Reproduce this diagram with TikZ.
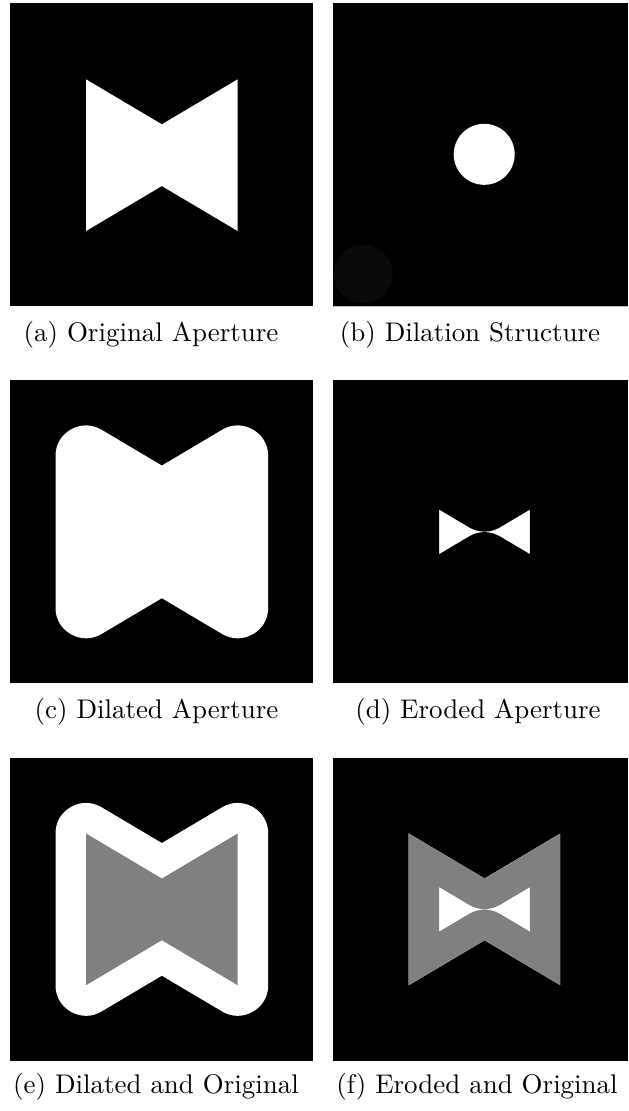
\documentclass[tikz,border=0pt]{standalone}
\begin{document}
\begin{tikzpicture}[x=0.36pt, y=-0.36pt]
    \tikzset{
      panel/.style={fill=black},
      bow/.style={insert path={(76,76) -- (151.85,121) -- (227.7,76) -- (227.7,227.7) -- (151.85,182.7) -- (76,227.7) -- cycle}},
      swell/.style={line width=21.96pt, line join=round},
      caption/.style={anchor=base, inner sep=0pt, font=\fontsize{9.7}{12}\selectfont}
    }
    \useasboundingbox[fill=white] (0,0) rectangle (628,1111);
    \begin{scope}[shift={(10,3.3)}]
      \fill[panel] (0,0) rectangle (303,303);
      \fill[white, bow];
    \end{scope}
    \begin{scope}[shift={(332.7,3.3)}]
      \fill[panel] (0,0) rectangle (295.3,303);
      \fill[black!96] (30.6,270.7) circle (29.3);
      \fill[white] (151.5,151) circle (30.5);
      \draw[black!25, line width=0.4pt] (0,303) -- (295.3,303);
    \end{scope}
    \begin{scope}[shift={(10,380)}]
      \fill[panel] (0,0) rectangle (303,303);
      \fill[white, bow];
      \draw[white, swell, bow];
    \end{scope}
    \begin{scope}[shift={(332.7,380)}]
      \fill[panel] (0,0) rectangle (295.3,303);
      \fill[white, bow];
      \draw[black, swell, bow];
    \end{scope}
    \begin{scope}[shift={(10,757.5)}]
      \fill[panel] (0,0) rectangle (303,303);
      \fill[white, bow];
      \draw[white, swell, bow];
      \fill[black!50, bow];
    \end{scope}
    \begin{scope}[shift={(332.7,757.5)}]
      \fill[panel] (0,0) rectangle (295.3,303);
      \begin{scope}
        \clip[bow];
        \fill[white, bow];
        \draw[black!50, swell, bow];
      \end{scope}
    \end{scope}
    \node (capa) [caption] at (151,341) {(a) Original Aperture};
    \node (capb) [caption] at (470,341) {(b) Dilation Structure};
    \node (capc) [caption] at (156.5,718.5) {(c) Dilated Aperture};
    \node (capd) [caption] at (478,718.5) {(d) Eroded Aperture};
    \node (cape) [caption] at (156,1093.5) {(e) Dilated and Original};
    \node (capf) [caption] at (477,1093.5) {(f) Eroded and Original};
  \end{tikzpicture}
\end{document}
